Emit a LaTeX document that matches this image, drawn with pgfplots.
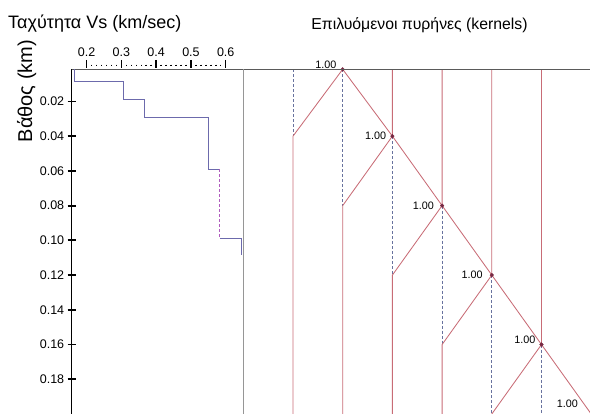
\documentclass[border=0pt]{standalone}
\usepackage{pgfplots}
\pgfplotsset{compat=1.18}
\usepackage{fontspec}
\setmainfont{Liberation Sans}
\definecolor{kred}{RGB}{200,108,118}
\definecolor{kdash}{RGB}{104,114,158}
\definecolor{kmark}{RGB}{120,40,66}
\definecolor{vel}{RGB}{108,106,172}
\definecolor{velm}{RGB}{176,92,190}
\definecolor{topline}{RGB}{90,90,90}
\definecolor{divline}{RGB}{150,150,150}
\begin{document}
\begin{tikzpicture}
\path[use as bounding box] (0pt,0pt) rectangle (590pt,414pt);
% ---------- left panel: velocity profile ----------
\begin{axis}[
  at={(71.7pt,344.7pt)}, anchor=north west,
  width=171.6pt, height=344.7pt, scale only axis,
  xmin=0.157, xmax=0.6506, ymin=0.0015, ymax=0.2, y dir=reverse,
  axis x line*=top, axis y line*=left,
  axis line style={-},
  x axis line style={topline, line width=0.9pt},
  y axis line style={black, line width=0.9pt},
  xtick={0.2,0.3,0.4,0.5,0.6},
  ytick={0.02,0.04,0.06,0.08,0.10,0.12,0.14,0.16,0.18},
  minor x tick num=6,
  tick align=center,
  major tick length=8pt, minor tick length=1.5pt,
  xtick style={black, line width=1.5pt},
  ytick style={black, line width=1.8pt},
  minor tick style={black!55, line width=0.7pt},
  every major x tick/.append style={yshift=5.5pt},
  every minor x tick/.append style={yshift=4pt},
  /pgf/number format/assume math mode=true,
  xticklabel style={font=\fontsize{12.5}{14}\selectfont, yshift=5pt, /pgf/number format/.cd, fixed, fixed zerofill, precision=1},
  yticklabel style={font=\fontsize{12.5}{14}\selectfont, /pgf/number format/.cd, fixed, fixed zerofill, precision=2},
  clip mode=individual,
]
\addplot[vel, line width=0.9pt] coordinates {
  (0.164,0.0015) (0.164,0.0083) (0.307,0.0083) (0.307,0.0187)
  (0.365,0.0187) (0.365,0.029) (0.551,0.029) (0.551,0.059) (0.583,0.059)};
\addplot[velm, line width=0.9pt, densely dashed] coordinates {
  (0.583,0.059) (0.583,0.0987)};
\addplot[vel, line width=0.9pt] coordinates {
  (0.583,0.0987) (0.646,0.0987) (0.646,0.1085)};
\end{axis}
% ---------- right panel: resolution kernels ----------
\begin{axis}[
  at={(243.3pt,344.7pt)}, anchor=north west,
  width=346.7pt, height=344.7pt, scale only axis,
  xmin=0, xmax=6.976, ymin=0.0015, ymax=0.2, y dir=reverse,
  axis line style={draw=none},
  xtick=\empty, ytick=\empty,
  clip mode=individual,
]
\pgfplotsset{kr/.style={kred, line width=0.85pt}, kd/.style={kdash, line width=0.7pt, dash pattern=on 3pt off 2pt}}
% baselines (dashed) where kernel is non zero
\addplot[kd] coordinates {(1,0.0015) (1,0.04)};
\addplot[kd] coordinates {(2,0.0015) (2,0.08)};
\addplot[kd] coordinates {(3,0.04) (3,0.12)};
\addplot[kd] coordinates {(4,0.08) (4,0.16)};
\addplot[kd] coordinates {(5,0.12) (5,0.2)};
\addplot[kd] coordinates {(6,0.16) (6,0.2)};
% kernels
\addplot[kr] coordinates {(2,0.0015) (1,0.04) (1,0.2)};
\addplot[kr] coordinates {(2,0.0015) (3,0.04) (2,0.08) (2,0.2)};
\addplot[kr] coordinates {(3,0.0015) (3,0.04) (4,0.08) (3,0.12) (3,0.2)};
\addplot[kr] coordinates {(4,0.0015) (4,0.08) (5,0.12) (4,0.16) (4,0.2)};
\addplot[kr] coordinates {(5,0.0015) (5,0.12) (6,0.16) (5,0.2)};
\addplot[kr] coordinates {(6,0.0015) (6,0.16) (7,0.2)};
\addplot[only marks, mark=*, mark size=1.8pt, kmark] coordinates {
  (2,0.0015) (3,0.04) (4,0.08) (5,0.12) (6,0.16) (7,0.2)};
\begin{scope}[font=\fontsize{10.8}{12}\selectfont, inner sep=0pt]
\node[anchor=base east] at ([xshift=-6pt,yshift=1pt]axis cs:2,0.0015) {1.00};
\node[anchor=east] at ([xshift=-6pt]axis cs:3,0.04) {1.00};
\node[anchor=east] at ([xshift=-8pt]axis cs:4,0.08) {1.00};
\node[anchor=east] at ([xshift=-9pt]axis cs:5,0.12) {1.00};
\node[anchor=east] at ([xshift=-6pt,yshift=5pt]axis cs:6,0.16) {1.00};
\node[anchor=east] at ([xshift=-13pt,yshift=10pt]axis cs:7,0.2) {1.00};
\end{scope}
\end{axis}
% frame lines
\draw[topline, line width=0.9pt] (243.3pt,344.7pt) -- (590pt,344.7pt);
\draw[divline, line width=1.2pt] (243.3pt,344.7pt) -- (243.3pt,0pt);
% titles and labels
\node[anchor=base west, inner sep=0pt, font=\fontsize{18}{20}\selectfont] at (8pt,385.7pt) {Ταχύτητα Vs (km/sec)};
\node[anchor=base, inner sep=0pt, font=\fontsize{15.8}{18}\selectfont] at (419.5pt,384.7pt) {Επιλυόμενοι πυρήνες (kernels)};
\node[anchor=base, rotate=90, inner sep=0pt, font=\fontsize{20}{22}\selectfont] at (32pt,323pt) {Βάθος (km)};
\end{tikzpicture}
\end{document}
